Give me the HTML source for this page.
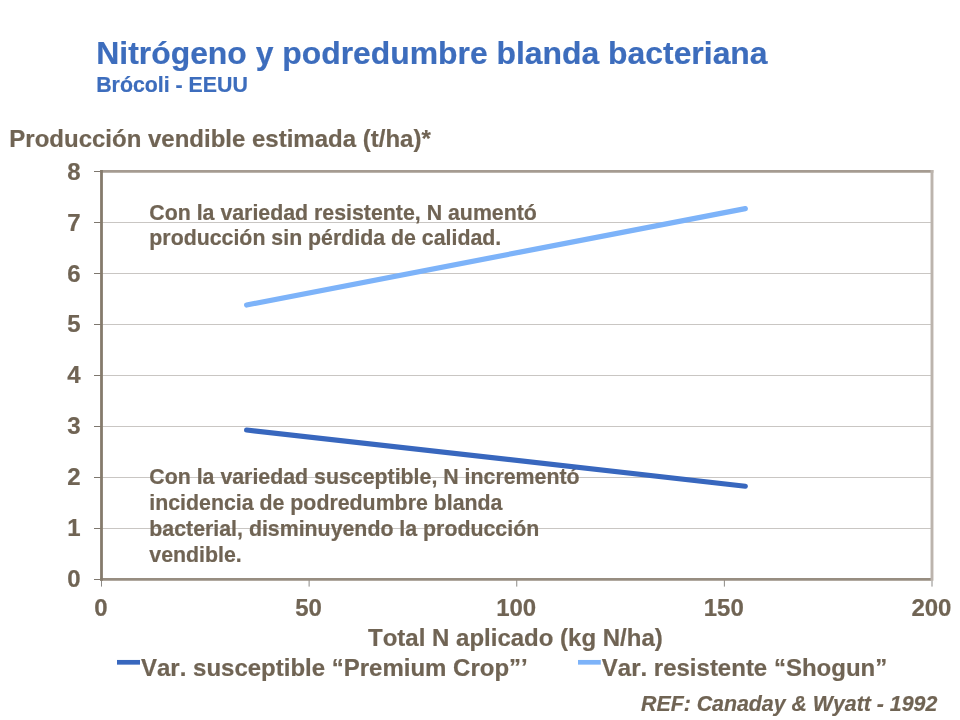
<!DOCTYPE html>
<html lang="es"><head><meta charset="utf-8"><title>Nitrógeno y podredumbre blanda bacteriana</title>
<style>
html,body{margin:0;padding:0;background:#fff;}
body{width:960px;height:720px;overflow:hidden;}
svg{display:block;position:absolute;left:0;top:0;}
text{font-family:"Liberation Sans",Arial,Helvetica,sans-serif;font-weight:bold;fill:#706454;white-space:pre;font-kerning:none;stroke:#706454;stroke-width:0.2px;stroke-linejoin:round;}
.bl{fill:#3d6dbd;stroke:#3d6dbd;}
</style></head><body>
<svg width="960" height="720" viewBox="0 0 960 720">
<rect x="0" y="0" width="960" height="720" fill="#ffffff"/>
<g id="grid">
<line x1="101.50" y1="528.50" x2="932.00" y2="528.50" stroke="#c9c6c3" stroke-width="1"/>
<line x1="101.50" y1="477.50" x2="932.00" y2="477.50" stroke="#c9c6c3" stroke-width="1"/>
<line x1="101.50" y1="426.50" x2="932.00" y2="426.50" stroke="#c9c6c3" stroke-width="1"/>
<line x1="101.50" y1="375.50" x2="932.00" y2="375.50" stroke="#c9c6c3" stroke-width="1"/>
<line x1="101.50" y1="324.50" x2="932.00" y2="324.50" stroke="#c9c6c3" stroke-width="1"/>
<line x1="101.50" y1="273.50" x2="932.00" y2="273.50" stroke="#c9c6c3" stroke-width="1"/>
<line x1="101.50" y1="222.50" x2="932.00" y2="222.50" stroke="#c9c6c3" stroke-width="1"/>
</g>
<g id="notes">
<text x="149.3" y="220" font-size="21.33" text-anchor="start">Con la variedad resistente, N aumentó</text>
<text x="149.3" y="245" font-size="21.33" text-anchor="start">producción sin pérdida de calidad.</text>
<text x="149.3" y="484" font-size="21.33" text-anchor="start">Con la variedad susceptible, N incrementó</text>
<text x="149.3" y="510" font-size="21.33" text-anchor="start">incidencia de podredumbre blanda</text>
<text x="149.3" y="536" font-size="21.33" text-anchor="start">bacterial, disminuyendo la producción</text>
<text x="149.3" y="562" font-size="21.33" text-anchor="start">vendible.</text>
</g>
<g id="ticks">
<line x1="94.00" y1="579.50" x2="101.50" y2="579.50" stroke="#7d776e" stroke-width="1"/>
<line x1="94.00" y1="528.50" x2="101.50" y2="528.50" stroke="#7d776e" stroke-width="1"/>
<line x1="94.00" y1="477.50" x2="101.50" y2="477.50" stroke="#7d776e" stroke-width="1"/>
<line x1="94.00" y1="426.50" x2="101.50" y2="426.50" stroke="#7d776e" stroke-width="1"/>
<line x1="94.00" y1="375.50" x2="101.50" y2="375.50" stroke="#7d776e" stroke-width="1"/>
<line x1="94.00" y1="324.50" x2="101.50" y2="324.50" stroke="#7d776e" stroke-width="1"/>
<line x1="94.00" y1="273.50" x2="101.50" y2="273.50" stroke="#7d776e" stroke-width="1"/>
<line x1="94.00" y1="222.50" x2="101.50" y2="222.50" stroke="#7d776e" stroke-width="1"/>
<line x1="94.00" y1="171.50" x2="101.50" y2="171.50" stroke="#7d776e" stroke-width="1"/>
<line x1="101.50" y1="579.30" x2="101.50" y2="586.60" stroke="#8c8a86" stroke-width="1"/>
<line x1="309.12" y1="579.30" x2="309.12" y2="586.60" stroke="#8c8a86" stroke-width="1"/>
<line x1="516.75" y1="579.30" x2="516.75" y2="586.60" stroke="#8c8a86" stroke-width="1"/>
<line x1="724.38" y1="579.30" x2="724.38" y2="586.60" stroke="#8c8a86" stroke-width="1"/>
<line x1="932.00" y1="579.30" x2="932.00" y2="586.60" stroke="#8c8a86" stroke-width="1"/>
</g>
<g id="frame">
<line x1="100.15" y1="171.40" x2="933.35" y2="171.40" stroke="#a59b91" stroke-width="2.8"/>
<line x1="100.15" y1="579.30" x2="931.00" y2="579.30" stroke="#978d81" stroke-width="2.8"/>
<line x1="932.00" y1="170.05" x2="932.00" y2="580.65" stroke="#bcb4ad" stroke-width="2.9"/>
<line x1="101.50" y1="170.05" x2="101.50" y2="580.65" stroke="#857b6c" stroke-width="2.8"/>
</g>
<g id="series">
<line x1="246.6" y1="305.0" x2="745.3" y2="208.6" stroke="#7db3f9" stroke-width="5.2" stroke-linecap="round"/>
<line x1="246.6" y1="430.0" x2="745.3" y2="486.25" stroke="#3867be" stroke-width="5.2" stroke-linecap="round"/>
<line x1="117" y1="662.3" x2="140" y2="662.3" stroke="#3867be" stroke-width="4.7"/>
<line x1="578" y1="662.3" x2="600.8" y2="662.3" stroke="#7db3f9" stroke-width="4.7"/>
</g>
<g id="labels">
<text x="96.3" y="64" font-size="31.88" text-anchor="start" class="bl">Nitrógeno y podredumbre blanda bacteriana</text>
<text x="96.2" y="92" font-size="21.33" text-anchor="start" class="bl">Brócoli - EEUU</text>
<text x="9.3" y="147" font-size="24" text-anchor="start">Producción vendible estimada (t/ha)*</text>
<text x="80.6" y="587" font-size="24" text-anchor="end">0</text>
<text x="80.6" y="536" font-size="24" text-anchor="end">1</text>
<text x="80.6" y="485" font-size="24" text-anchor="end">2</text>
<text x="80.6" y="434" font-size="24" text-anchor="end">3</text>
<text x="80.6" y="383" font-size="24" text-anchor="end">4</text>
<text x="80.6" y="332" font-size="24" text-anchor="end">5</text>
<text x="80.6" y="282" font-size="24" text-anchor="end">6</text>
<text x="80.6" y="231" font-size="24" text-anchor="end">7</text>
<text x="80.6" y="180" font-size="24" text-anchor="end">8</text>
<text x="100.9" y="616" font-size="24" text-anchor="middle">0</text>
<text x="308.52" y="616" font-size="24" text-anchor="middle">50</text>
<text x="516.15" y="616" font-size="24" text-anchor="middle">100</text>
<text x="723.77" y="616" font-size="24" text-anchor="middle">150</text>
<text x="931.4" y="616" font-size="24" text-anchor="middle">200</text>
<text x="515.4" y="646" font-size="24" text-anchor="middle">Total N aplicado (kg N/ha)</text>
<text x="141.0" y="676" font-size="24" text-anchor="start">Var. susceptible “Premium Crop”’</text>
<text x="601.8" y="676" font-size="24" text-anchor="start">Var. resistente “Shogun”</text>
<text x="641.0" y="711" font-size="21.33" text-anchor="start" font-style="italic">REF: Canaday &amp; Wyatt - 1992</text>
</g>
</svg>
</body></html>
